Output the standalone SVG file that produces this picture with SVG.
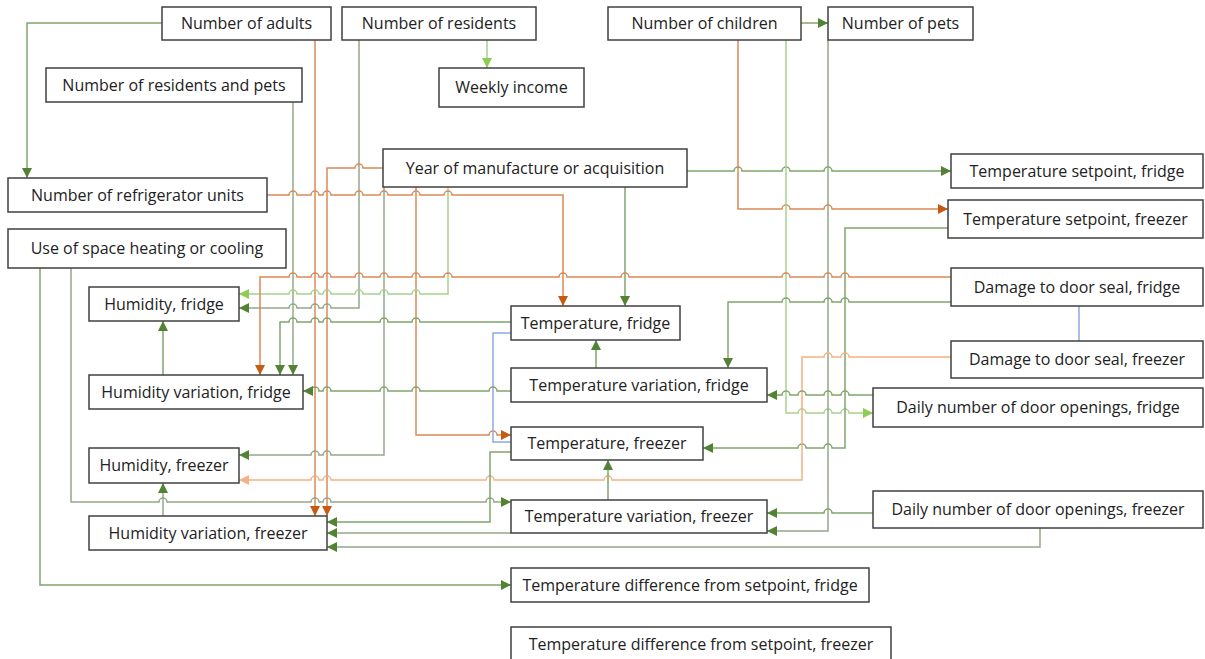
<svg xmlns="http://www.w3.org/2000/svg" width="1205" height="659" viewBox="0 0 1205 659">
<style>
.box{fill:#fff;stroke:#404040;stroke-width:1.5}
.lbl{font-family:"Open Sans","Liberation Sans",sans-serif;font-size:16px;fill:#222;text-anchor:middle}
.c{fill:none;stroke-width:1.5}
.g{stroke:#82a56c}
.gg{stroke:#94a889}
.lg{stroke:#a9d18e}
.o{stroke:#d98b57}
.p{stroke:#f4b183}
.b{stroke:#8faadc}
</style>
<defs>
<marker id="ag" viewBox="0 0 10 10" refX="10" refY="5" markerWidth="10" markerHeight="10" markerUnits="userSpaceOnUse" orient="auto"><path d="M0,0L10,5L0,10z" fill="#548235"/></marker>
<marker id="alg" viewBox="0 0 10 10" refX="10" refY="5" markerWidth="10" markerHeight="10" markerUnits="userSpaceOnUse" orient="auto"><path d="M0,0L10,5L0,10z" fill="#8fcc55"/></marker>
<marker id="ao" viewBox="0 0 10 10" refX="10" refY="5" markerWidth="10" markerHeight="10" markerUnits="userSpaceOnUse" orient="auto"><path d="M0,0L10,5L0,10z" fill="#c55a11"/></marker>
<marker id="ap" viewBox="0 0 10 10" refX="10" refY="5" markerWidth="10" markerHeight="10" markerUnits="userSpaceOnUse" orient="auto"><path d="M0,0L10,5L0,10z" fill="#f4b183"/></marker>
</defs>
<rect width="1205" height="659" fill="#fff"/>
<g id="connectors">
<path class="c g" marker-end="url(#ag)" d="M162,23H27V178"/>
<path class="c lg" marker-end="url(#alg)" d="M487,40V68"/>
<path class="c g" marker-end="url(#ag)" d="M801,23H828"/>
<path class="c o" marker-end="url(#ao)" d="M315,40V516"/>
<path class="c o" marker-end="url(#ao)" d="M383,168H363A4,4 0 0 0 355,168H327V516"/>
<path class="c gg" marker-end="url(#ag)" d="M359,40V308H331A4,4 0 0 0 323,308H319A4,4 0 0 0 311,308H297A4,4 0 0 0 289,308H239"/>
<path class="c gg" marker-end="url(#ag)" d="M293,102V375"/>
<path class="c gg" marker-end="url(#ag)" d="M384,187V455H331A4,4 0 0 0 323,455H319A4,4 0 0 0 311,455H239"/>
<path class="c o" marker-end="url(#ao)" d="M416,187V435H489A4,4 0 0 1 497,435H511"/>
<path class="c lg" marker-end="url(#alg)" d="M448,187V294H420A4,4 0 0 0 412,294H388A4,4 0 0 0 380,294H363A4,4 0 0 0 355,294H331A4,4 0 0 0 323,294H319A4,4 0 0 0 311,294H297A4,4 0 0 0 289,294H239"/>
<path class="c o" marker-end="url(#ao)" d="M267,195H289A4,4 0 0 1 297,195H311A4,4 0 0 1 319,195H323A4,4 0 0 1 331,195H355A4,4 0 0 1 363,195H380A4,4 0 0 1 388,195H412A4,4 0 0 1 420,195H444A4,4 0 0 1 452,195H563V306"/>
<path class="c g" marker-end="url(#ag)" d="M625,187V306"/>
<path class="c g" marker-end="url(#ag)" d="M687,171H734A4,4 0 0 1 742,171H782A4,4 0 0 1 790,171H824A4,4 0 0 1 832,171H951"/>
<path class="c o" marker-end="url(#ao)" d="M738,40V209H782A4,4 0 0 1 790,209H824A4,4 0 0 1 832,209H948"/>
<path class="c lg" marker-end="url(#alg)" d="M786,40V413H798A4,4 0 0 1 806,413H824A4,4 0 0 1 832,413H841A4,4 0 0 1 849,413H873"/>
<path class="c gg" marker-end="url(#ag)" d="M828,40V531H767"/>
<path class="c g" marker-end="url(#ag)" d="M948,228H845V448H832A4,4 0 0 0 824,448H806A4,4 0 0 0 798,448H703"/>
<path class="c o" marker-end="url(#ao)" d="M951,277H849A4,4 0 0 0 841,277H832A4,4 0 0 0 824,277H790A4,4 0 0 0 782,277H629A4,4 0 0 0 621,277H567A4,4 0 0 0 559,277H452A4,4 0 0 0 444,277H420A4,4 0 0 0 412,277H388A4,4 0 0 0 380,277H363A4,4 0 0 0 355,277H331A4,4 0 0 0 323,277H319A4,4 0 0 0 311,277H297A4,4 0 0 0 289,277H260V375"/>
<path class="c g" marker-end="url(#ag)" d="M951,302H849A4,4 0 0 0 841,302H832A4,4 0 0 0 824,302H790A4,4 0 0 0 782,302H728V368"/>
<path class="c p" marker-end="url(#ap)" d="M951,357H849A4,4 0 0 0 841,357H832A4,4 0 0 0 824,357H802V480H612A4,4 0 0 0 604,480H494A4,4 0 0 0 486,480H331A4,4 0 0 0 323,480H319A4,4 0 0 0 311,480H239"/>
<path class="c g" marker-end="url(#ag)" d="M511,322H420A4,4 0 0 0 412,322H388A4,4 0 0 0 380,322H331A4,4 0 0 0 323,322H319A4,4 0 0 0 311,322H297A4,4 0 0 0 289,322H280V375"/>
<path class="c b" d="M511,333H493V442H511"/>
<path class="c b" d="M1079,306V341"/>
<path class="c g" marker-end="url(#ag)" d="M163,375V321"/>
<path class="c gg" marker-end="url(#ag)" d="M163,516V483"/>
<path class="c g" marker-end="url(#ag)" d="M596,368V340"/>
<path class="c g" marker-end="url(#ag)" d="M608,500V460"/>
<path class="c g" marker-end="url(#ag)" d="M40,268V585H511"/>
<path class="c gg" marker-end="url(#ag)" d="M71,268V502H159A4,4 0 0 1 167,502H311A4,4 0 0 1 319,502H323A4,4 0 0 1 331,502H486A4,4 0 0 1 494,502H511"/>
<path class="c g" marker-end="url(#ag)" d="M511,452H490V522H327"/>
<path class="c g" marker-end="url(#ag)" d="M511,391H497A4,4 0 0 0 489,391H420A4,4 0 0 0 412,391H388A4,4 0 0 0 380,391H331A4,4 0 0 0 323,391H319A4,4 0 0 0 311,391H303"/>
<path class="c g" marker-end="url(#ag)" d="M873,395H849A4,4 0 0 0 841,395H832A4,4 0 0 0 824,395H806A4,4 0 0 0 798,395H790A4,4 0 0 0 782,395H767"/>
<path class="c g" marker-end="url(#ag)" d="M873,513H832A4,4 0 0 0 824,513H767"/>
<path class="c gg" marker-end="url(#ag)" d="M1040,528V547H327"/>
<path class="c gg" marker-end="url(#ag)" d="M511,533H327"/>
</g>
<g id="n-adults"><rect class="box" x="162" y="7" width="169" height="33"/><text class="lbl" x="246.5" y="29">Number of adults</text></g>
<g id="n-residents"><rect class="box" x="342" y="7" width="194" height="33"/><text class="lbl" x="439" y="29">Number of residents</text></g>
<g id="n-children"><rect class="box" x="608" y="7" width="193" height="33"/><text class="lbl" x="704.5" y="29">Number of children</text></g>
<g id="n-pets"><rect class="box" x="828" y="7" width="145" height="33"/><text class="lbl" x="900.5" y="29">Number of pets</text></g>
<g id="n-respets"><rect class="box" x="46" y="68" width="256" height="34"/><text class="lbl" x="174" y="90.5">Number of residents and pets</text></g>
<g id="n-income"><rect class="box" x="439" y="68" width="145" height="39"/><text class="lbl" x="511.5" y="93">Weekly income</text></g>
<g id="n-units"><rect class="box" x="8" y="178" width="259" height="34"/><text class="lbl" x="137.5" y="200.5">Number of refrigerator units</text></g>
<g id="n-year"><rect class="box" x="383" y="149" width="304" height="38"/><text class="lbl" x="535" y="173.5">Year of manufacture or acquisition</text></g>
<g id="n-spfridge"><rect class="box" x="951" y="154" width="252" height="34"/><text class="lbl" x="1077" y="176.5">Temperature setpoint, fridge</text></g>
<g id="n-spfreezer"><rect class="box" x="948" y="200" width="255" height="38"/><text class="lbl" x="1075.5" y="224.5">Temperature setpoint, freezer</text></g>
<g id="n-space"><rect class="box" x="8" y="229" width="278" height="39"/><text class="lbl" x="147" y="254">Use of space heating or cooling</text></g>
<g id="n-humfridge"><rect class="box" x="89" y="287" width="150" height="34"/><text class="lbl" x="164" y="309.5">Humidity, fridge</text></g>
<g id="n-humvarfridge"><rect class="box" x="89" y="375" width="214" height="34"/><text class="lbl" x="196" y="397.5">Humidity variation, fridge</text></g>
<g id="n-tfridge"><rect class="box" x="511" y="306" width="169" height="34"/><text class="lbl" x="595.5" y="328.5">Temperature, fridge</text></g>
<g id="n-tvarfridge"><rect class="box" x="511" y="368" width="256" height="34"/><text class="lbl" x="639" y="390.5">Temperature variation, fridge</text></g>
<g id="n-tfreezer"><rect class="box" x="511" y="427" width="192" height="33"/><text class="lbl" x="607" y="449">Temperature, freezer</text></g>
<g id="n-dsfridge"><rect class="box" x="951" y="268" width="252" height="38"/><text class="lbl" x="1077" y="292.5">Damage to door seal, fridge</text></g>
<g id="n-dsfreezer"><rect class="box" x="951" y="341" width="252" height="37"/><text class="lbl" x="1077" y="365">Damage to door seal, freezer</text></g>
<g id="n-doorfridge"><rect class="box" x="873" y="388" width="330" height="39"/><text class="lbl" x="1038" y="413">Daily number of door openings, fridge</text></g>
<g id="n-humfreezer"><rect class="box" x="89" y="448" width="150" height="35"/><text class="lbl" x="164" y="471">Humidity, freezer</text></g>
<g id="n-humvarfreezer"><rect class="box" x="89" y="516" width="238" height="34"/><text class="lbl" x="208" y="538.5">Humidity variation, freezer</text></g>
<g id="n-tvarfreezer"><rect class="box" x="511" y="500" width="256" height="33"/><text class="lbl" x="639" y="522">Temperature variation, freezer</text></g>
<g id="n-doorfreezer"><rect class="box" x="873" y="491" width="330" height="37"/><text class="lbl" x="1038" y="515">Daily number of door openings, freezer</text></g>
<g id="n-tdfridge"><rect class="box" x="511" y="568" width="358" height="34"/><text class="lbl" x="690" y="590.5">Temperature difference from setpoint, fridge</text></g>
<g id="n-tdfreezer"><rect class="box" x="511" y="627" width="380" height="36"/><text class="lbl" x="701" y="649.5">Temperature difference from setpoint, freezer</text></g>
</svg>
